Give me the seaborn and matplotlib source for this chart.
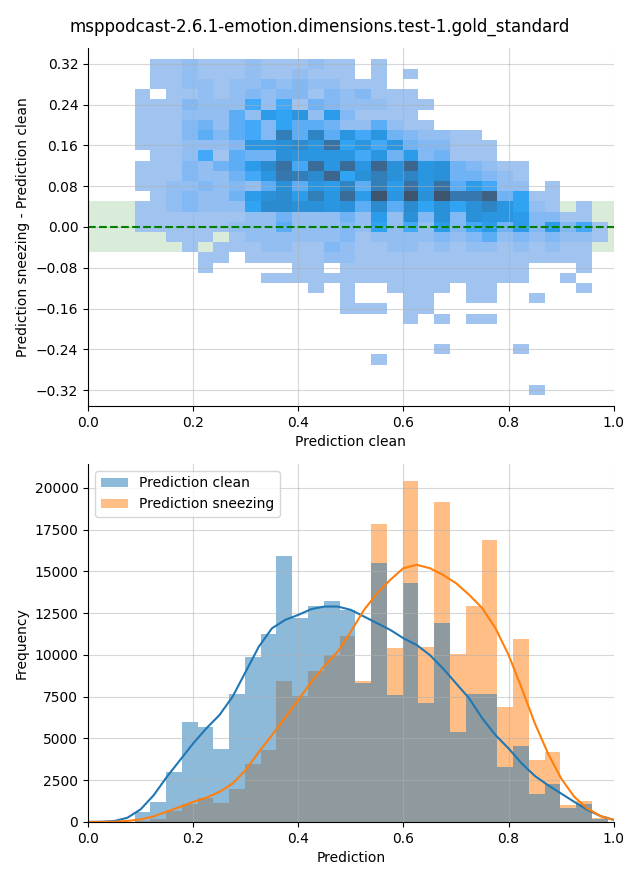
import numpy as np
import pandas as pd
import matplotlib
matplotlib.use("Agg")
import matplotlib.pyplot as plt
import seaborn as sns

TITLE = "msppodcast-2.6.1-emotion.dimensions.test-1.gold_standard"

# Prediction bins, shared by both panels
bin_start = 0.0885
bin_width = 0.0300
n_bins = 30

# Difference bins (top panel)
diff_start = -0.330
diff_width = 0.020
n_diff_bins = 33

# --- Bottom panel: counts per prediction bin ---
clean_counts = [580, 1200, 3000, 5990, 5690, 4370, 7660, 9880, 11280, 15930,
                12220, 12930, 13230, 12700, 8340, 15500, 7620, 14310, 7100, 11900,
                5410, 7660, 7660, 3310, 4550, 1680, 2280, 860, 1080, 150]
sneezing_counts = [50, 200, 660, 1080, 1440, 1140, 1980, 3470, 4310, 8440,
                   7540, 9040, 10000, 11140, 8460, 17840, 10420, 20420, 10480, 19160,
                   10060, 12930, 16890, 6900, 10960, 3710, 4190, 1000, 1260, 250]

# KDE curves
kde_x = np.linspace(0, 1, 41)
kde_clean = [0, 10, 50, 250, 750, 1600, 2700, 3700, 4700, 5600,
             6400, 7500, 9000, 10500, 11600, 12100, 12400, 12750, 12900, 12900,
             12700, 12300, 11900, 11500, 11000, 10600, 10000, 9200, 8300, 7400,
             6200, 5200, 4400, 3500, 2750, 2200, 1700, 1200, 720, 350, 120]
kde_sneezing = [0, 0, 10, 60, 150, 330, 620, 900, 1200, 1450,
                1800, 2300, 3100, 4200, 5200, 6250, 7300, 8400, 9350, 10200,
                11400, 12700, 13700, 14500, 15200, 15400, 15200, 14800, 14300, 13600,
                12800, 11600, 10000, 8000, 5900, 4100, 2600, 1500, 800, 350, 120]

# --- Top panel: cell counts, one string per difference bin (top row first),
# one base-36 digit per prediction bin, "0" = empty cell ---
density_rows = [
    "011211121112110100000000000000",
    "011211121121110101000000000000",
    "011221223232211100000000000000",
    "101121232331323111000000000000",
    "111322262614322211100000000000",
    "111222528792831111000000000000",
    "111342563755422521100000000000",
    "111353563d5c596943221100000000",
    "111222399ab9f79694331110000000",
    "011261544a99996948341110000000",
    "11132458bf6g9g9hah9a4321100000",
    "111322469edbh7adac9a4432100000",
    "112232325a598c5d8f9f5862201000",
    "01232248ab8d9g8k9kakeei4711000",
    "11232227bbaa9a5b5b7a7ac9721010",
    "11111112242224282a3a3a99833110",
    "111111222522232726283684838361",
    "001110122222231222232352323221",
    "000101112211321122121221212110",
    "000011011111221111111111111110",
    "000010000011011111111111100010",
    "000000001111111111111111100100",
    "000000000001010011110110000010",
    "000000000000010001100110010000",
    "000000000000011101100000000000",
    "000000000000000001010110000000",
    "000000000000000000000000000000",
    "000000000000000000000000000000",
    "000000000000000000010000100000",
    "000000000000000100000000000000",
    "000000000000000000000000000000",
    "000000000000000000000000000000",
    "000000000000000000000000010000",
]

y_ticks = [-0.32, -0.24, -0.16, -0.08, 0.0, 0.08, 0.16, 0.24, 0.32]

x_edges = bin_start + bin_width * np.arange(n_bins + 1)
y_edges = diff_start + diff_width * np.arange(n_diff_bins + 1)
x_centers = (x_edges[:-1] + x_edges[1:]) / 2
y_centers = (y_edges[:-1] + y_edges[1:]) / 2

# long form table for the 2d histogram
cells = []
for j, row in enumerate(density_rows):
    assert len(row) == n_bins
    y = y_centers[n_diff_bins - 1 - j]
    for i, ch in enumerate(row):
        n = int(ch, 36)
        if n > 0:
            cells.append((x_centers[i], y, n))
df_diff = pd.DataFrame(cells, columns=["Prediction clean", "diff", "count"])

df_hist = pd.DataFrame({
    "Prediction": np.concatenate([x_centers, x_centers]),
    "count": clean_counts + sneezing_counts,
    "source": ["Prediction clean"] * n_bins + ["Prediction sneezing"] * n_bins,
})

fig, (ax_top, ax_bottom) = plt.subplots(2, 1, figsize=(6.4, 8.8))
fig.subplots_adjust(left=0.1375, right=0.959, top=0.9455, bottom=0.066, hspace=0.162)
fig.suptitle(TITLE)

# --- Top: sneezing - clean vs clean ---
ax_top.axhspan(-0.05, 0.05, color="green", alpha=0.15, lw=0)
sns.histplot(data=df_diff, x="Prediction clean", y="diff", weights="count",
             bins=(list(x_edges), list(y_edges)), ax=ax_top)
ax_top.axhline(0, color="green", ls="--", lw=1.5)
ax_top.set_xlim(0, 1)
ax_top.set_ylim(-0.351, 0.351)
ax_top.set_yticks(y_ticks)
ax_top.set_xlabel("Prediction clean")
ax_top.set_ylabel("Prediction sneezing - Prediction clean")
ax_top.grid(True, alpha=0.5)

# --- Bottom: prediction distributions ---
sns.lineplot(x=kde_x, y=kde_clean, color="C0", ax=ax_bottom)
sns.lineplot(x=kde_x, y=kde_sneezing, color="C1", ax=ax_bottom)
sns.histplot(data=df_hist, x="Prediction", weights="count", hue="source",
             bins=list(x_edges), alpha=0.5, linewidth=0, ax=ax_bottom)
sns.move_legend(ax_bottom, "upper left", title=None)
ax_bottom.set_xlim(0, 1)
ax_bottom.set_ylim(bottom=0)
ax_bottom.set_xlabel("Prediction")
ax_bottom.set_ylabel("Frequency")
ax_bottom.grid(True, alpha=0.5)

sns.despine(fig=fig)

plt.savefig("out.png", dpi=100)
plt.close()
